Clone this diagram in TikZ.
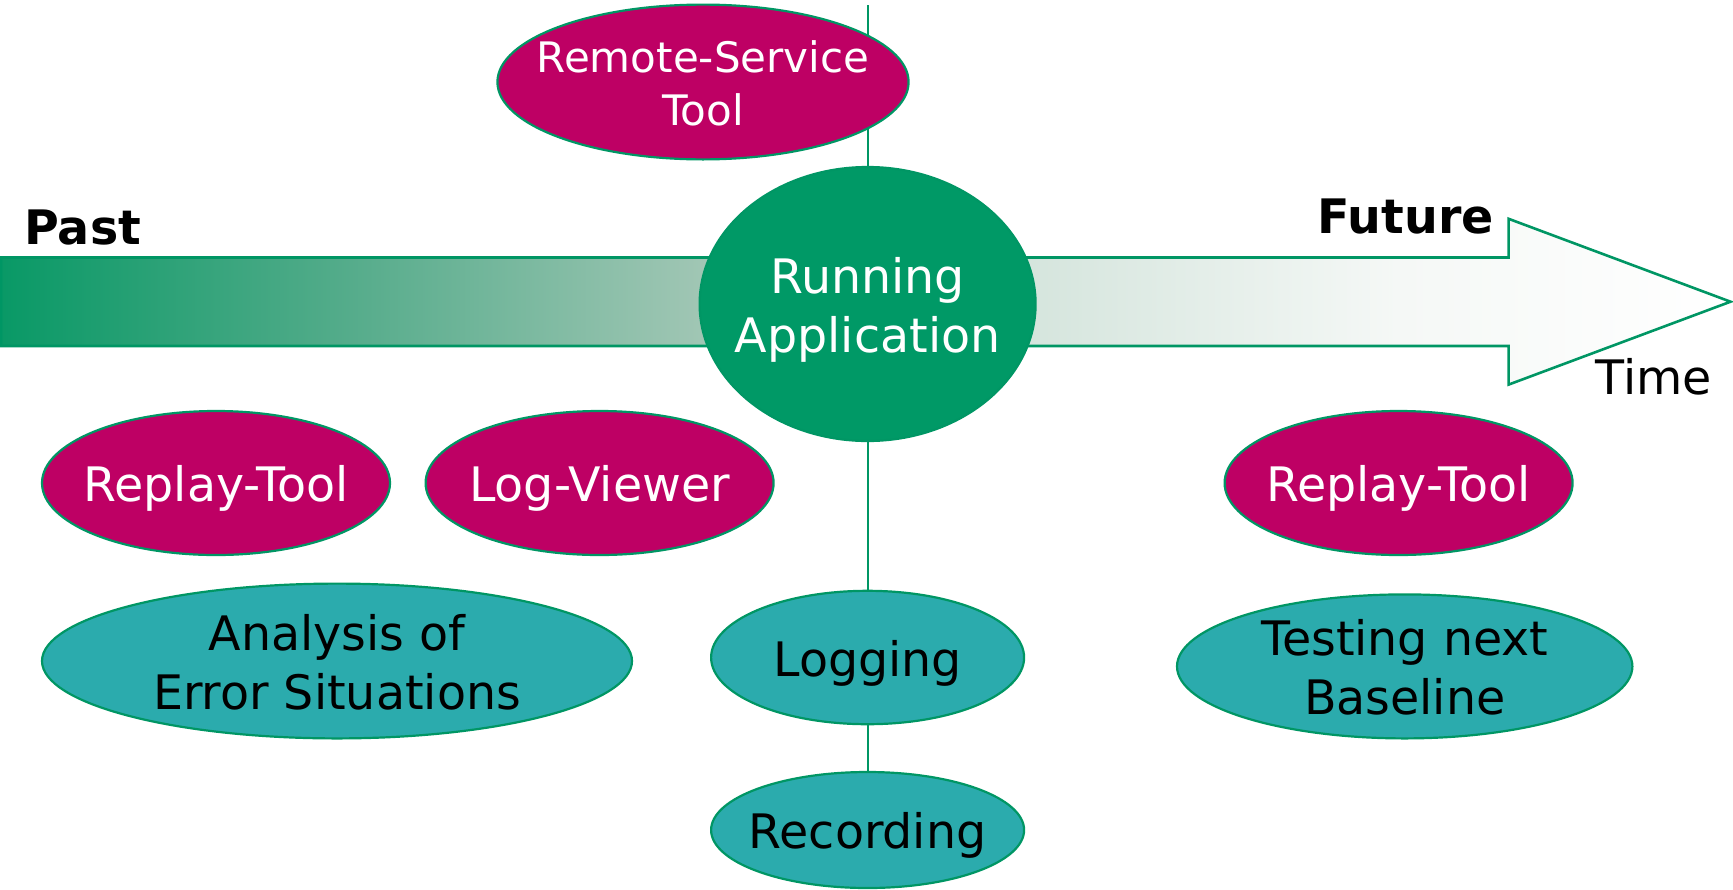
\documentclass[tikz,border=0pt]{standalone}
\usepackage{fontspec}
\setmainfont{DejaVu Sans}
\usetikzlibrary{shapes.geometric}

\definecolor{appgreen}{RGB}{0,153,102}
\definecolor{edgegreen}{RGB}{0,150,100}
\definecolor{toolmag}{RGB}{190,0,100}
\definecolor{taskteal}{RGB}{43,171,173}

% stops of the fading band
\definecolor{bandA}{RGB}{9,153,102}
\definecolor{bandB}{RGB}{85,172,139}
\definecolor{bandC}{RGB}{160,198,180}
\definecolor{bandD}{RGB}{213,229,221}
\definecolor{bandE}{RGB}{245,248,246}
\definecolor{bandF}{RGB}{255,255,255}

% fading green-to-white band along the time axis
\pgfdeclarehorizontalshading{timeband}{100bp}{%
  color(0bp)=(bandA);
  color(25bp)=(bandA);
  color(35.1bp)=(bandB);
  color(45.2bp)=(bandC);
  color(54.75bp)=(bandD);
  color(65.4bp)=(bandE);
  color(75bp)=(bandF);
  color(100bp)=(bandF)}

\pgfdeclarelayer{band}
\pgfdeclarelayer{links}
\pgfsetlayers{band,links,main}

% every text line gets the same height and depth
\newcommand\lnstrut{\rule[-0.21em]{0pt}{1.21em}}

\tikzset{
  blob/.style={ellipse, draw=edgegreen, line width=1.1pt, inner sep=0pt},
  toolblob/.style={blob, fill=toolmag},
  taskblob/.style={blob, fill=taskteal},
  appblob/.style={blob, fill=appgreen},
  txt/.style={inner sep=0pt, align=center,
    font=\fontsize{23.75}{27.5}\selectfont},
  smalltxt/.style={txt, font=\fontsize{21}{25.3}\selectfont},
  conn/.style={draw=edgegreen, line width=1pt},
  boldlbl/.style={inner sep=0pt, font=\fontsize{23.75}{27.5}\selectfont\bfseries},
  plainlbl/.style={inner sep=0pt, font=\fontsize{23.75}{27.5}\selectfont},
}

\begin{document}
\begin{tikzpicture}[x=0.5pt, y=-0.5pt]
\useasboundingbox (0,0) rectangle (1733,889);

% time arrow
\begin{pgfonlayer}{band}
\draw[draw=edgegreen, line width=1.3pt, shading=timeband]
  (1,257.5) -- (1508.6,257.5) -- (1508.6,218.8) -- (1730.5,301.7)
  -- (1508.6,384.6) -- (1508.6,346) -- (1,346) -- cycle;
\end{pgfonlayer}

% ellipses
\coordinate (topend) at (867.6,5);
\node[appblob,  minimum width=168pt,   minimum height=137pt] (ra)  at (867.6,304) {};
\node[toolblob, minimum width=205.6pt, minimum height=77.4pt] (rst) at (703,82) {};
\node[toolblob, minimum width=174pt,   minimum height=72pt]  (rt1) at (216,483) {};
\node[toolblob, minimum width=174pt,   minimum height=72pt]  (lv)  at (599.6,483) {};
\node[toolblob, minimum width=174pt,   minimum height=72pt]  (rt2) at (1398.6,483) {};
\node[taskblob, minimum width=295pt,   minimum height=77.4pt] (aes) at (337,661) {};
\node[taskblob, minimum width=156.5pt, minimum height=66.7pt] (log) at (867.6,657.5) {};
\node[taskblob, minimum width=156.5pt, minimum height=58pt]  (rec) at (867.6,830) {};
\node[taskblob, minimum width=227.7pt, minimum height=72pt]  (tnb) at (1404.7,666.4) {};

% connectors, kept behind the ellipses
\begin{pgfonlayer}{links}
\draw[conn] (topend) -- (ra.north);
\draw[conn] (ra.south) -- (log.north);
\draw[conn] (log.south) -- (rec.north);
\end{pgfonlayer}

% texts
\node[smalltxt, text=white] (rst-t) at (rst) {\lnstrut Remote-Service\\\lnstrut Tool};
\node[txt, text=white] (ra-t)  at (ra)  {\lnstrut Running\\\lnstrut Application};
\node[txt, text=white] (rt1-t) at (rt1) {\lnstrut Replay-Tool};
\node[txt, text=white] (lv-t)  at (lv)  {\lnstrut Log-Viewer};
\node[txt, text=white] (rt2-t) at (rt2) {\lnstrut Replay-Tool};
\node[txt] (aes-t) at (aes) {\lnstrut Analysis of\\\lnstrut Error Situations};
\node[txt] (log-t) at (log) {\lnstrut Logging};
\node[txt] (rec-t) at (rec) {\lnstrut Recording};
\node[txt] (tnb-t) at (tnb) {\lnstrut Testing next\\\lnstrut Baseline};

\node[boldlbl, anchor=base west] (past) at (24,244) {Past};
\node[boldlbl, anchor=base east] (future) at (1494,233) {Future};
\node[plainlbl, anchor=base west] (time) at (1595,394.6) {Time};
\end{tikzpicture}
\end{document}
